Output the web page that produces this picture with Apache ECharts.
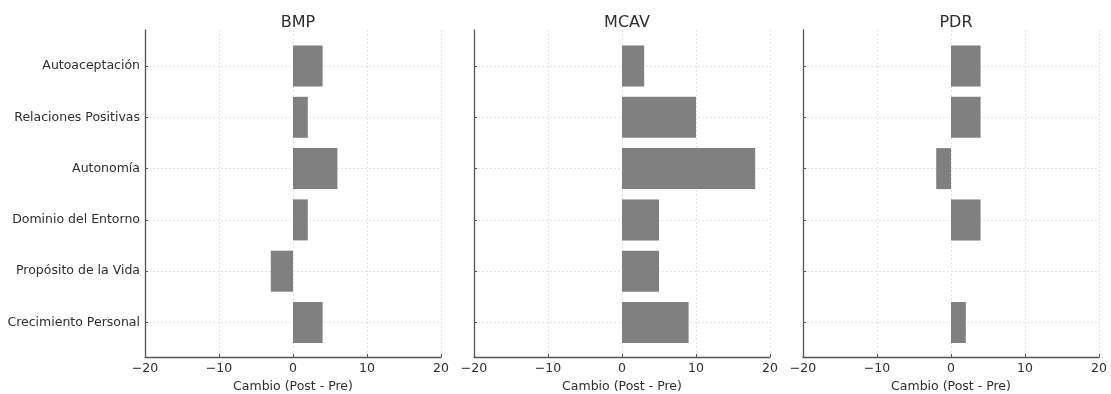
<!DOCTYPE html>
<html>
<head>
<meta charset="utf-8">
<script src="https://cdn.jsdelivr.net/npm/echarts@6/dist/echarts.min.js"></script>
<style>
html,body{margin:0;padding:0;background:#fff;}
#chart{width:1111px;height:394px;}
</style>
</head>
<body>
<div id="chart"></div>
<script>
const categories = ["Autoaceptación", "Relaciones Positivas", "Autonomía", "Dominio del Entorno", "Propósito de la Vida", "Crecimiento Personal"];
const panelTitles = ["BMP", "MCAV", "PDR"];
const bmpValues = [4, 2, 6, 2, -3, 4];
const mcavValues = [3, 10, 18, 5, 5, 9];
const pdrValues = [4, 4, -2, 4, 0, 2];
const xTicks = [-20, -10, 0, 10, 20];
const axisName = "Cambio (Post - Pre)";

const panelValues = [bmpValues, mcavValues, pdrValues];
const lefts = [145, 474, 803];
const W = 296;
const FONT = "DejaVu Sans";
const TXT = "#2e2e2e";
const AX = "#555555";
const GRIDC = "#e4e4e4";
const FS = 12.5;

const grids = [], xAxes = [], yAxes = [], series = [], titles = [];
panelValues.forEach((vals, i) => {
  const L = lefts[i];
  grids.push({left: L, width: W, top: 30, height: 327, containLabel: false, outerBoundsMode: 'none'});
  grids.push({left: L, width: W, top: 40.35, height: 307.8, containLabel: false, outerBoundsMode: 'none'});
  const og = 2 * i, ig = 2 * i + 1;
  xAxes.push({
    type: 'value', gridIndex: og, min: xTicks[0], max: xTicks[xTicks.length - 1], interval: 10,
    axisLine: {show: true, onZero: false, lineStyle: {color: AX, width: 1.3}},
    axisTick: {show: true, inside: true, length: 3, lineStyle: {color: AX}},
    axisLabel: {fontFamily: FONT, fontSize: FS, color: TXT, margin: 5.5,
      formatter: v => String(v).replace('-', '\u2212')},
    splitLine: {show: true, lineStyle: {color: GRIDC, type: [2, 2], width: 1}},
    name: axisName, nameLocation: 'middle', nameGap: 20.5,
    nameTextStyle: {fontFamily: FONT, fontSize: FS, color: TXT}
  });
  yAxes.push({
    type: 'value', gridIndex: og, min: 0, max: 1,
    axisLine: {show: true, onZero: false, lineStyle: {color: AX, width: 1.3}},
    axisTick: {show: false}, axisLabel: {show: false}, splitLine: {show: false}
  });
  xAxes.push({
    type: 'value', gridIndex: ig, min: xTicks[0], max: xTicks[xTicks.length - 1], interval: 10, show: false,
    splitLine: {show: false}
  });
  yAxes.push({
    type: 'category', gridIndex: ig, data: categories, inverse: true,
    axisLine: {show: false, onZero: false},
    axisTick: {show: true, inside: true, length: 3, alignWithLabel: true, lineStyle: {color: AX}},
    axisLabel: {show: i === 0, fontFamily: FONT, fontSize: FS, color: TXT, margin: 5},
    splitLine: {show: true, alignWithLabel: true, lineStyle: {color: GRIDC, type: [2, 2], width: 1}}
  });
  series.push({
    type: 'bar', xAxisIndex: 2 * i + 1, yAxisIndex: 2 * i + 1, data: vals,
    barWidth: 41, itemStyle: {color: '#808080'}, z: 3, silent: true
  });
  titles.push({
    text: panelTitles[i], left: L + W / 2, top: 10, textAlign: 'center',
    textStyle: {fontFamily: FONT, fontSize: 16, fontWeight: 'normal', color: TXT}
  });
});

const chart = echarts.init(document.getElementById('chart'), null, {renderer: 'canvas'});
chart.setOption({
  animation: false,
  backgroundColor: '#ffffff',
  title: titles,
  grid: grids,
  xAxis: xAxes,
  yAxis: yAxes,
  series: series
});
</script>
</body>
</html>
